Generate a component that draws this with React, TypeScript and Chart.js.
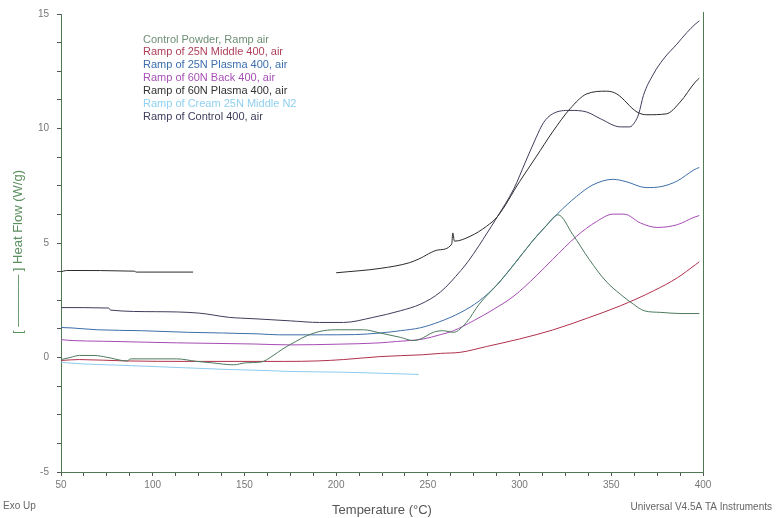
import React, { useEffect, useRef } from 'react';
import { Chart, registerables } from 'chart.js';

Chart.register(...registerables);

// ---- data ----
const seriesLabels = [
  'Control Powder, Ramp air',
  'Ramp of 25N Middle 400, air',
  'Ramp of 25N Plasma 400, air',
  'Ramp of 60N Back 400, air',
  'Ramp of 60N Plasma 400, air',
  'Ramp of Cream 25N Middle N2',
  'Ramp of Control 400, air',
];
const seriesColors = ['#4c7a5e', '#b0304a', '#3b6ea8', '#a64bb5', '#2a2a2a', '#8ccbee', '#3d3d5c'];
const legendColors = ['#6f8f76', '#b0405a', '#3b6eb0', '#a650b5', '#333333', '#8fd0f2', '#3d3d5c'];

const controlPowderT = [50, 55, 60, 68, 75, 86, 88, 113, 124, 132, 144, 151, 159, 165, 171, 178, 184, 193, 202, 215, 224, 235, 242, 246, 253, 258, 264, 271, 278, 288, 297, 307, 314, 321, 329, 338, 347, 355, 362, 368, 377, 388, 398];
const controlPowderV = [-0.09, 0.0, 0.09, 0.09, 0.01, -0.15, -0.06, -0.06, -0.17, -0.23, -0.32, -0.23, -0.2, 0.05, 0.38, 0.7, 0.95, 1.17, 1.21, 1.21, 1.07, 0.88, 0.74, 0.81, 1.1, 1.17, 1.1, 1.53, 2.33, 3.2, 4.07, 5.08, 5.7, 6.23, 5.37, 4.28, 3.34, 2.76, 2.33, 2.04, 1.97, 1.92, 1.92];

const middle25T = [50, 60, 85, 120, 172, 190, 204, 224, 247, 257, 268, 282, 300, 318, 337, 355, 373, 386, 396, 398];
const middle25V = [-0.13, -0.09, -0.15, -0.17, -0.17, -0.15, -0.09, 0.04, 0.12, 0.18, 0.23, 0.48, 0.81, 1.2, 1.72, 2.26, 2.91, 3.48, 4.06, 4.18];

const plasma25T = [50, 56, 70, 94, 119, 138, 158, 169, 190, 210, 224, 235, 246, 256, 268, 278, 288, 297, 307, 311, 321, 331, 340, 351, 358, 369, 377, 386, 395, 398];
const plasma25V = [1.31, 1.29, 1.21, 1.17, 1.1, 1.07, 1.03, 0.99, 0.99, 1.0, 1.07, 1.17, 1.3, 1.55, 1.97, 2.47, 3.2, 4.07, 5.08, 5.45, 6.3, 7.03, 7.54, 7.78, 7.68, 7.42, 7.46, 7.71, 8.19, 8.3];

const back60T = [50, 56, 73, 113, 155, 175, 200, 224, 233, 240, 247, 257, 264, 275, 286, 297, 309, 318, 331, 342, 351, 357, 366, 375, 386, 395, 398];
const back60V = [0.78, 0.74, 0.71, 0.64, 0.59, 0.55, 0.58, 0.64, 0.7, 0.74, 0.8, 1.0, 1.17, 1.61, 2.11, 2.69, 3.56, 4.28, 5.29, 5.94, 6.26, 6.26, 5.87, 5.68, 5.8, 6.12, 6.2];

const plasma60T = [50, 53, 90, 91, 122, 160, 200, 224, 240, 245, 256, 263, 263.6, 264.5, 273, 282, 288, 300, 309, 318, 327.5, 336.6, 347.5, 353, 364, 369.4, 380, 387.5, 395.7, 398];
const plasma60V = [3.74, 3.8, 3.77, 3.73, 3.73, null, 3.7, 3.89, 4.14, 4.3, 4.7, 4.95, 5.44, 5.08, 5.29, 5.73, 6.16, 7.68, 8.76, 9.85, 10.86, 11.51, 11.63, 11.51, 10.72, 10.6, 10.64, 11.15, 12.02, 12.2];

const creamT = [50, 53, 86, 118, 140, 158, 175, 202, 217, 245];
const creamV = [-0.2, -0.23, -0.35, -0.45, -0.52, -0.56, -0.61, -0.64, -0.67, -0.74];

const control400T = [50, 76, 77, 102, 125, 142, 148, 158, 175, 191, 204, 220, 235, 246, 257, 268, 272, 278, 282, 288, 297, 303, 309, 313, 318, 327.5, 336.6, 344, 355, 360, 363, 365, 367.5, 373, 378.4, 385.7, 391.2, 395.7, 398];
const control400V = [2.18, 2.16, 2.07, 2.0, 1.94, 1.75, 1.72, 1.68, 1.6, 1.53, 1.53, 1.75, 2.04, 2.33, 2.87, 3.8, 4.2, 4.9, 5.4, 6.16, 7.39, 8.5, 9.6, 10.25, 10.64, 10.79, 10.72, 10.43, 10.07, 10.07, 10.3, 10.65, 11.44, 12.38, 13.03, 13.68, 14.19, 14.55, 14.7];

const xTickLabels = ['50', '100', '150', '200', '250', '300', '350', '400'];
const yTickLabels = ['-5', '0', '5', '10', '15'];

const seriesT = [controlPowderT, middle25T, plasma25T, back60T, plasma60T, creamT, control400T];
const seriesV = [controlPowderV, middle25V, plasma25V, back60V, plasma60V, creamV, control400V];

const FONT = "'Liberation Sans', Arial, sans-serif";

const extrasPlugin = {
  id: 'extras',
  afterDraw(chart: any) {
    const ctx = chart.ctx;
    const ca = chart.chartArea;
    ctx.save();
    // right border
    ctx.strokeStyle = '#4f7a55';
    ctx.lineWidth = 1;
    ctx.beginPath();
    ctx.moveTo(Math.round(ca.right) + 0.5, ca.top - 2);
    ctx.lineTo(Math.round(ca.right) + 0.5, ca.bottom);
    ctx.stroke();
    // legend text
    ctx.font = `11px ${FONT}`;
    ctx.textAlign = 'left';
    ctx.textBaseline = 'middle';
    seriesLabels.forEach((lab, i) => {
      ctx.fillStyle = legendColors[i];
      ctx.fillText(lab, 143, 39.5 + i * 12.9);
    });
    // y axis title
    ctx.save();
    ctx.translate(18, 252);
    ctx.rotate(-Math.PI / 2);
    ctx.font = `13px ${FONT}`;
    ctx.fillStyle = '#5a8f5e';
    ctx.textAlign = 'center';
    ctx.textBaseline = 'middle';
    ctx.fillText('[ ———— ] Heat Flow (W/g)', 0, 0);
    ctx.restore();
    // footer texts
    ctx.font = `10px ${FONT}`;
    ctx.fillStyle = '#666';
    ctx.textAlign = 'left';
    ctx.fillText('Exo Up', 3, 506);
    ctx.textAlign = 'right';
    ctx.fillText('Universal V4.5A TA Instruments', 772, 507);
    ctx.restore();
  },
};

export default function App() {
  const ref = useRef<HTMLCanvasElement>(null);
  useEffect(() => {
    const canvas = ref.current;
    if (!canvas) return;
    const datasets = seriesLabels.map((label, i) => ({
      label,
      data: seriesT[i].map((t, k) => ({ x: t, y: seriesV[i][k] })),
      borderColor: seriesColors[i],
      backgroundColor: seriesColors[i],
      borderWidth: 1,
      pointRadius: 0,
      fill: false,
      spanGaps: false,
      cubicInterpolationMode: 'monotone' as const,
    }));
    const chart = new Chart(canvas, {
      type: 'line',
      data: { datasets },
      plugins: [extrasPlugin],
      options: {
        animation: false,
        responsive: false,
        maintainAspectRatio: false,
        layout: { padding: { left: 0, right: 73, top: 11, bottom: 0 } },
        plugins: { legend: { display: false }, tooltip: { enabled: false } },
        scales: {
          x: {
            type: 'linear',
            min: 50,
            max: 400,
            afterFit: (s: any) => { s.height = 46; },
            ticks: {
              stepSize: 12.5,
              autoSkip: false,
              maxRotation: 0,
              padding: 3,
              color: '#777',
              font: { family: FONT, size: 10 },
              callback: (v: any) => {
                const s = String(Math.round(Number(v)));
                return Math.abs(Number(v) % 50) < 1e-6 && xTickLabels.includes(s) ? s : '';
              },
            },
            grid: { drawOnChartArea: false, drawTicks: true, tickLength: 4, tickColor: '#555' },
            border: { color: '#4f7a55', width: 1 },
            title: {
              display: true,
              text: 'Temperature (°C)',
              color: '#555',
              font: { family: FONT, size: 13 },
              padding: { top: 4, bottom: 0 },
            },
          },
          y: {
            type: 'linear',
            min: -5,
            max: 15,
            afterFit: (s: any) => { s.width = 61; },
            ticks: {
              stepSize: 1.25,
              autoSkip: false,
              padding: 8,
              color: '#777',
              font: { family: FONT, size: 10 },
              callback: (v: any) => {
                const s = String(Math.round(Number(v)));
                return Math.abs(Number(v) % 5) < 1e-6 && yTickLabels.includes(s) ? s : '';
              },
            },
            grid: { drawOnChartArea: false, drawTicks: true, tickLength: 4, tickColor: '#555' },
            border: { color: '#4f7a55', width: 1 },
            title: { display: false },
          },
        },
      },
    });
    return () => chart.destroy();
  }, []);
  return (
    <div style={{ position: 'absolute', left: 0, top: 0, width: 776, height: 518, background: '#fff' }}>
      <canvas ref={ref} width={776} height={518} style={{ display: 'block', width: 776, height: 518 }} />
    </div>
  );
}
